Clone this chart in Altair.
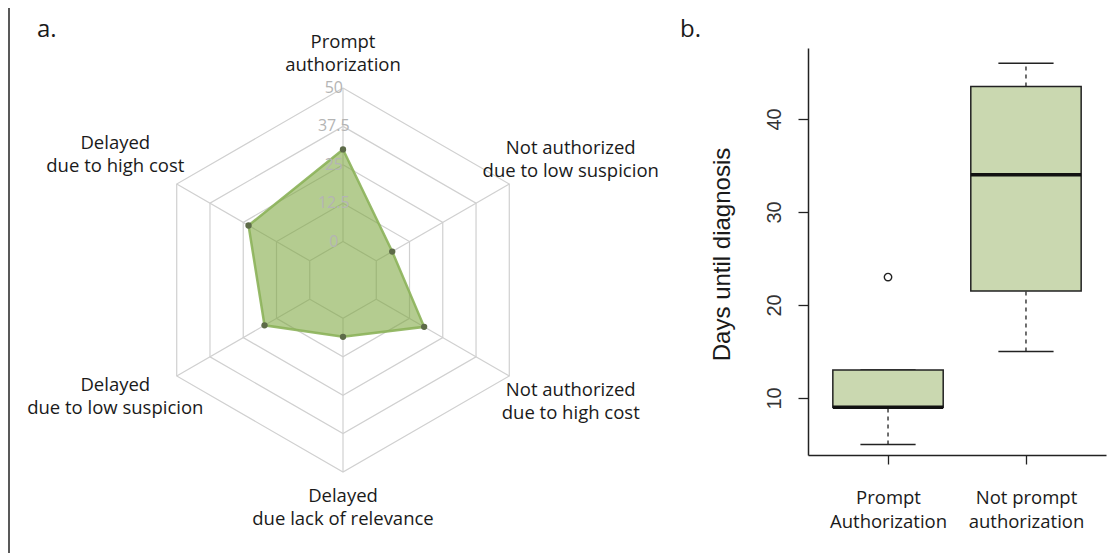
import altair as alt
import pandas as pd

# ---------------- data ----------------
categories = [
    "Prompt\nauthorization",
    "Not authorized\ndue to low suspicion",
    "Not authorized\ndue to high cost",
    "Delayed\ndue lack of relevance",
    "Delayed\ndue to low suspicion",
    "Delayed\ndue to high cost",
]
shares = [30, 6, 18, 6, 17, 23]
ring_values = [0, 12.5, 25, 37.5, 50]
ring_labels = ["0", "12.5", "25", "37.5", "50"]

groups = ["Prompt\nAuthorization", "Not prompt\nauthorization"]
whisker_low = [5, 15]
q1 = [9, 21.5]
median = [9, 34]
q3 = [13, 43.5]
whisker_high = [13, 46]
outlier_group = [1]
outlier_values = [23]
y_ticks = [10, 20, 30, 40]
y_title = "Days until diagnosis"

panel_labels = ["a.", "b."]

# ---------------- tables ----------------
n = len(categories)
poly_df = pd.DataFrame({"i": list(range(n + 1)),
                        "value": [shares[i % n] for i in range(n + 1)]})
pts_df = pd.DataFrame({"i": list(range(n)), "value": shares, "cat": categories})
grid_df = pd.DataFrame([{"ring": r, "k": k} for r in ring_values for k in range(n + 1)])
spoke_df = pd.DataFrame({"k": list(range(n)),
                         "r0": [ring_values[0]] * n, "r1": [ring_values[-1]] * n})
tick_df = pd.DataFrame({"ring": ring_values, "lab": ring_labels})

box_df = pd.DataFrame({"group": groups, "pos": [1, 2], "lw": whisker_low, "q1": q1,
                       "med": median, "q3": q3, "uw": whisker_high})
out_df = pd.DataFrame({"pos": outlier_group, "v": outlier_values})

# ---------------- radar ----------------
SHIFT = 12.5  # radial origin offset (value 0 sits on the inner ring)
rx = alt.Scale(domain=[-109.05, 249.02], nice=False, zero=False)
ry = alt.Scale(domain=[-88.87, 88.54], nice=False, zero=False)
GRID = "#d0d0d0"


def ang(f):
    return f"(PI/180*(90 - 60*datum.{f}))"


grid = alt.Chart(grid_df).transform_calculate(
    x=f"(datum.ring + {SHIFT}) * cos({ang('k')})",
    y=f"(datum.ring + {SHIFT}) * sin({ang('k')})",
).mark_line(color=GRID, strokeWidth=1.2).encode(
    x=alt.X("x:Q", scale=rx, axis=None),
    y=alt.Y("y:Q", scale=ry, axis=None),
    detail="ring:N",
    order="k:Q",
)

spokes = alt.Chart(spoke_df).transform_calculate(
    xa=f"(datum.r0 + {SHIFT}) * cos({ang('k')})",
    ya=f"(datum.r0 + {SHIFT}) * sin({ang('k')})",
    xb=f"(datum.r1 + {SHIFT}) * cos({ang('k')})",
    yb=f"(datum.r1 + {SHIFT}) * sin({ang('k')})",
).mark_rule(color=GRID, strokeWidth=1.2).encode(
    x=alt.X("xa:Q", scale=rx, axis=None),
    y=alt.Y("ya:Q", scale=ry, axis=None),
    x2="xb:Q",
    y2="yb:Q",
)

poly = alt.Chart(poly_df).transform_calculate(
    x=f"(datum.value + {SHIFT}) * cos({ang('i')})",
    y=f"(datum.value + {SHIFT}) * sin({ang('i')})",
).mark_line(fill="#7ba63b", fillOpacity=0.57, stroke="#8cb35a",
            strokeWidth=2.5, strokeOpacity=0.9).encode(
    x=alt.X("x:Q", scale=rx, axis=None),
    y=alt.Y("y:Q", scale=ry, axis=None),
    order="i:Q",
)

points = alt.Chart(pts_df).transform_calculate(
    x=f"(datum.value + {SHIFT}) * cos({ang('i')})",
    y=f"(datum.value + {SHIFT}) * sin({ang('i')})",
).mark_circle(size=40, color="#5d6b48", opacity=1).encode(
    x=alt.X("x:Q", scale=rx, axis=None),
    y=alt.Y("y:Q", scale=ry, axis=None),
)

ticks = alt.Chart(tick_df).transform_calculate(
    x="-3",
    y=f"datum.ring + {SHIFT}",
).mark_text(font="Open Sans", fontSize=16, color="#b4b4b4",
            align="center", baseline="middle").encode(
    x=alt.X("x:Q", scale=rx, axis=None),
    y=alt.Y("y:Q", scale=ry, axis=None),
    text="lab:N",
)

RL = ring_values[-1] + SHIFT
labels = alt.Chart(pts_df).transform_calculate(
    a=ang("i"),
).transform_calculate(
    x=f"{RL}*cos(datum.a) + (abs(cos(datum.a)) < 0.1 ? 0 : (cos(datum.a) > 0 ? 20 : -20))",
    y=(f"{RL}*sin(datum.a) + (abs(cos(datum.a)) < 0.1 ? 11.4 : 8) * (sin(datum.a) > 0 ? 1 : -1)"
       " + 3.6 + (cos(datum.a) < -0.1 ? 1.6 : 0)"),
).mark_text(font="Open Sans", fontSize=18.5, color="#1a1a1a", align="center",
            baseline="middle", lineBreak="\n", lineHeight=23).encode(
    x=alt.X("x:Q", scale=rx, axis=None),
    y=alt.Y("y:Q", scale=ry, axis=None),
    text="cat:N",
)

radar = alt.layer(grid, spokes, poly, points, ticks, labels)

# ---------------- box plot ----------------
bx = alt.Scale(domain=[0.42, 2.58], range=[800, 1098], nice=False, zero=False)
by = alt.Scale(domain=[3.87, 47.63], range=[447, 40], nice=False, zero=False)

lab_parts = [g.split("\n") for g in groups]
label_expr = "datum.value == 1 ? {} : {}".format(
    "[" + ",".join(f"'{p}'" for p in lab_parts[0]) + "]",
    "[" + ",".join(f"'{p}'" for p in lab_parts[1]) + "]",
)

x_axis = alt.Axis(orient="bottom", offset=-98, values=[1, 2], labelExpr=label_expr,
                  title=None, grid=False, domainColor="#222", domainWidth=1.5,
                  tickColor="#222", tickWidth=1.3, tickSize=9,
                  labelFont="Open Sans", labelFontSize=18.5, labelColor="#1a1a1a",
                  labelPadding=24, labelLineHeight=24)
y_axis = alt.Axis(orient="left", offset=-800, values=y_ticks, grid=False,
                  title=y_title, titleAngle=270, titleX=-86, titleY=246,
                  titleAlign="center", titleBaseline="middle",
                  titleFont="Liberation Sans", titleFontSize=24,
                  titleFontWeight="normal", titleColor="#1a1a1a",
                  domainColor="#222", domainWidth=1.5, tickColor="#222",
                  tickWidth=1.3, tickSize=10, labelAngle=270, labelAlign="center",
                  labelBaseline="alphabetic", labelPadding=18,
                  labelFont="Liberation Sans", labelFontSize=20, labelColor="#333")

base = alt.Chart(box_df).transform_calculate(
    left="datum.pos - 0.4", right="datum.pos + 0.4",
    capl="datum.pos - 0.2", capr="datum.pos + 0.2",
)

wlow = base.mark_rule(color="#222", strokeWidth=1.3, strokeDash=[4, 4]).encode(
    x=alt.X("pos:Q", scale=bx, axis=x_axis),
    y=alt.Y("lw:Q", scale=by, axis=y_axis),
    y2="q1:Q",
)
whigh = base.mark_rule(color="#222", strokeWidth=1.3, strokeDash=[4, 4]).encode(
    x=alt.X("pos:Q", scale=bx, axis=x_axis),
    y=alt.Y("q3:Q", scale=by, axis=y_axis),
    y2="uw:Q",
)
cap_low = base.mark_rule(color="#222", strokeWidth=1.5).encode(
    x=alt.X("capl:Q", scale=bx, axis=x_axis),
    x2="capr:Q",
    y=alt.Y("lw:Q", scale=by, axis=y_axis),
)
cap_high = base.mark_rule(color="#222", strokeWidth=1.5).encode(
    x=alt.X("capl:Q", scale=bx, axis=x_axis),
    x2="capr:Q",
    y=alt.Y("uw:Q", scale=by, axis=y_axis),
)
box = base.mark_rect(fill="#cad8b0", stroke="#222", strokeWidth=1.5).encode(
    x=alt.X("left:Q", scale=bx, axis=x_axis),
    x2="right:Q",
    y=alt.Y("q1:Q", scale=by, axis=y_axis),
    y2="q3:Q",
)
med = base.mark_rule(color="#111", strokeWidth=3.5).encode(
    x=alt.X("left:Q", scale=bx, axis=x_axis),
    x2="right:Q",
    y=alt.Y("med:Q", scale=by, axis=y_axis),
)
outl = alt.Chart(out_df).mark_point(shape="circle", filled=False, size=55,
                                     color="#222", strokeWidth=1.4, opacity=1).encode(
    x=alt.X("pos:Q", scale=bx, axis=x_axis),
    y=alt.Y("v:Q", scale=by, axis=y_axis),
)

boxplot = alt.layer(wlow, whigh, cap_low, cap_high, box, med, outl)

# ---------------- annotations ----------------
lab_a = alt.Chart(pd.DataFrame({"t": [panel_labels[0]]})).mark_text(
    font="Open Sans", fontSize=24, color="#1a1a1a", align="left", baseline="alphabetic"
).encode(text="t:N", x=alt.value(29), y=alt.value(29))
lab_b = alt.Chart(pd.DataFrame({"t": [panel_labels[1]]})).mark_text(
    font="Open Sans", fontSize=24, color="#1a1a1a", align="left", baseline="alphabetic"
).encode(text="t:N", x=alt.value(672), y=alt.value(29))
frame = alt.Chart(pd.DataFrame({"t": [0]})).mark_rule(color="#222", strokeWidth=1.5).encode(
    x=alt.value(1), y=alt.value(0), y2=alt.value(545)
)

chart = alt.layer(radar, boxplot, lab_a, lab_b, frame).resolve_scale(
    x="independent", y="independent"
).properties(
    width=1100, height=545, padding=0,
    autosize=alt.AutoSizeParams(type="none"),
).configure_view(stroke=None)

chart.save("out.html", embed_options={"renderer": "svg", "actions": False})
